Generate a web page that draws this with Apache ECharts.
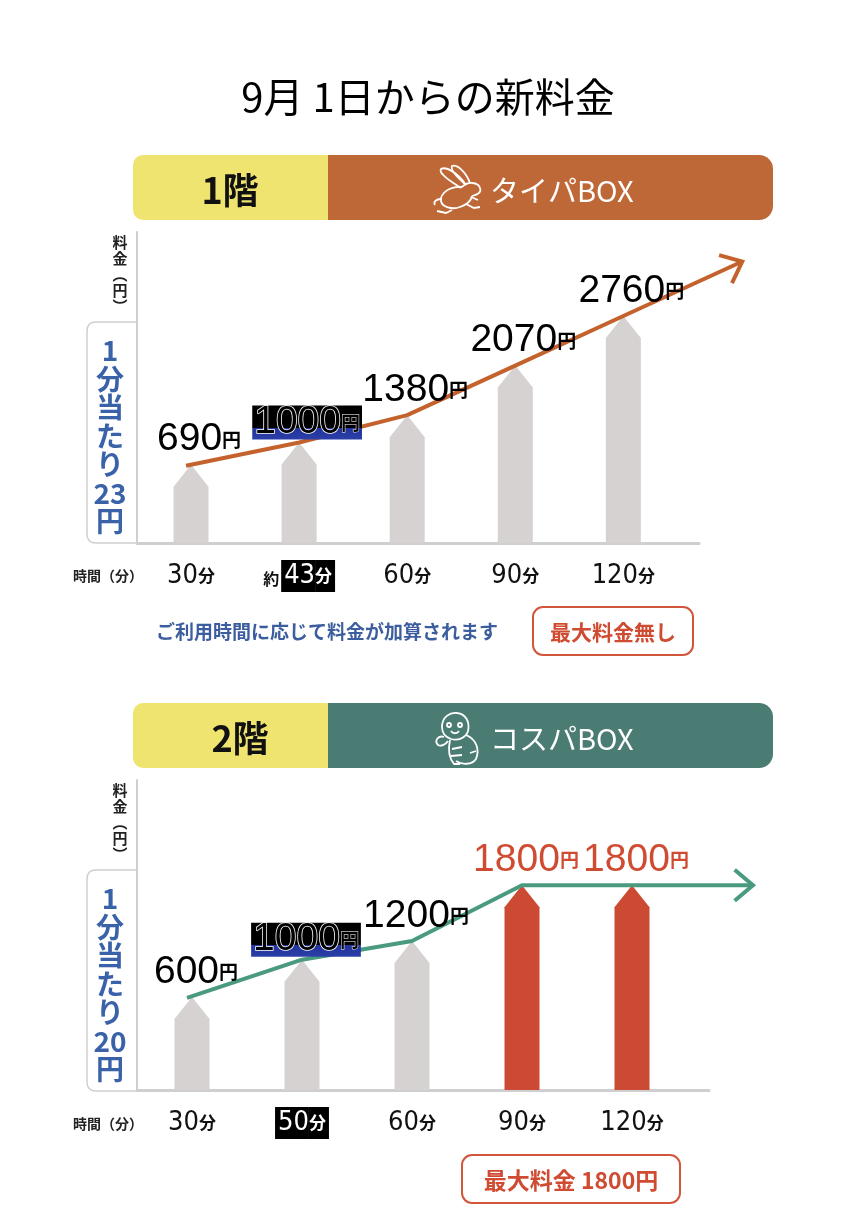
<!DOCTYPE html>
<html><head><meta charset="utf-8">
<script src="https://cdn.jsdelivr.net/npm/echarts@6/dist/echarts.min.js"></script>
<style>html,body{margin:0;padding:0;background:#fff}#c{width:856px;height:1212px}</style>
</head><body><div id="c"></div>
<script>
const JP = '"Noto Sans CJK JP", sans-serif';
const NUM = '"Liberation Sans", Arial, sans-serif';
const NARROW = '"Liberation Sans Narrow", "DejaVu Sans Condensed", "Liberation Sans", sans-serif';

// ---- data ----
const minutes1 = ['30', '43', '60', '90', '120'];
const prefix1 = ['', '約', '', '', ''];
const prices1 = [690, 1000, 1380, 2070, 2760];
const minutes2 = ['30', '50', '60', '90', '120'];
const prefix2 = ['', '', '', '', ''];
const prices2 = [600, 1000, 1200, 1800, 1800];
const highlightIndex = 1;       // highlighted time / price
const cappedFrom2 = 3;          // 2F: from 90分 the price is capped
const perMinute1 = 23;
const perMinute2 = 20;
const maxPrice2 = 1800;

// ---- styles ----
const GREY_BAR = '#D6D2D2';
const RED_BAR = '#CC4A33';
const ORANGE = '#C4622D';
const TEAL = '#4A9A80';
const AXIS = '#CFCFCF';
const BLUE = '#3A62A8';
const RED_TXT = '#CF4B31';
const Y_MIN = -400;

function xAxisFor(gi, mins, pre) {
  return {
    type: 'value', gridIndex: gi, min: -0.5, max: 4.7,
    axisLine: { show: true, onZero: false, lineStyle: { color: AXIS, width: 3 } },
    axisTick: { show: false }, splitLine: { show: false },
    axisLabel: {
      show: true, customValues: [0, 1, 2, 3, 4], margin: 17,
      formatter: function (v) {
        const i = Math.round(v);
        if (i === highlightIndex) {
          return (pre[i] ? '{pre|' + pre[i] + '}' : '') + '{hn|' + mins[i] + '}{hu|分}';
        }
        return '{n|' + mins[i] + '}{u|分}';
      },
      rich: {
        n: { fontFamily: NARROW, fontSize: 27, color: '#111', height: 32, lineHeight: 32, verticalAlign: 'bottom' },
        u: { fontFamily: JP, fontSize: 17, fontWeight: 'bold', color: '#111', height: 32, lineHeight: 32, verticalAlign: 'bottom' },
        pre: { fontFamily: JP, fontSize: 16, fontWeight: 'bold', color: '#111', height: 26, lineHeight: 26, verticalAlign: 'bottom', padding: [0, 2, 0, 0] },
        hn: { fontFamily: NARROW, fontSize: 27, color: '#fff', backgroundColor: '#000', height: 32, lineHeight: 32, padding: [0, 0, 0, 3], verticalAlign: 'bottom' },
        hu: { fontFamily: JP, fontSize: 17, fontWeight: 'bold', color: '#fff', backgroundColor: '#000', height: 32, lineHeight: 32, padding: [0, 3, 0, 0], verticalAlign: 'bottom' }
      }
    }
  };
}
function yAxisFor(gi, max) {
  return {
    type: 'value', gridIndex: gi, min: Y_MIN, max: max,
    axisLine: { show: true, onZero: false, lineStyle: { color: AXIS, width: 2 } },
    axisTick: { show: false }, axisLabel: { show: false }, splitLine: { show: false }
  };
}

function barRender(redFrom) {
  return function (params, api) {
    const i = api.value(0), v = api.value(1);
    const top = api.coord([i, v]);
    const base = api.coord([i, Y_MIN]);
    const w = 35, tip = 22, hw = w / 2;
    const color = (redFrom != null && i >= redFrom) ? RED_BAR : GREY_BAR;
    return {
      type: 'polygon',
      shape: { points: [[top[0] - hw, base[1]], [top[0] - hw, top[1] + tip], [top[0], top[1]], [top[0] + hw, top[1] + tip], [top[0] + hw, base[1]]] },
      style: { fill: color }
    };
  };
}

function trendRender(prices, color) {
  return function (params, api) {
    const n = prices.length;
    if (params.dataIndex !== n - 1) return null;
    const pts = prices.map((v, i) => api.coord([i, v]));
    pts[0] = [pts[0][0] - 5, pts[0][1] + 1];
    const slope = prices[n - 1] - prices[n - 2];
    const endPt = api.coord([n - 1 + 1.1, prices[n - 1] + 1.1 * slope]);
    pts.push(endPt);
    const prev = pts[n - 1];
    const ang = Math.atan2(endPt[1] - prev[1], endPt[0] - prev[0]);
    const L = 24, spread = Math.PI - 0.7;
    const a1 = [endPt[0] + L * Math.cos(ang + spread), endPt[1] + L * Math.sin(ang + spread)];
    const a2 = [endPt[0] + L * Math.cos(ang - spread), endPt[1] + L * Math.sin(ang - spread)];
    return {
      type: 'group',
      children: [
        { type: 'polyline', shape: { points: pts }, style: { stroke: color, lineWidth: 4, fill: null, lineJoin: 'round' } },
        { type: 'polyline', shape: { points: [a1, endPt, a2] }, style: { stroke: color, lineWidth: 4, fill: null, lineJoin: 'miter', lineCap: 'butt' } }
      ]
    };
  };
}

const hlBg = new echarts.graphic.LinearGradient(0, 0, 0, 1, [
  { offset: 0, color: '#000' }, { offset: 0.66, color: '#000' },
  { offset: 0.66, color: '#23349A' }, { offset: 1, color: '#2B3FA8' }
]);

function labelRender(redFrom, dx) {
  return function (params, api) {
    const i = api.value(0), v = api.value(1);
    const p = api.coord([i, v]);
    const hl = i === highlightIndex;
    const red = redFrom != null && i >= redFrom;
    const col = red ? RED_TXT : '#000';
    const style = {
      text: '{n|' + v + '}{u|円}',
      align: 'center', verticalAlign: 'bottom', textAlign: 'center', textVerticalAlign: 'bottom',
      rich: {
        n: { fontFamily: NUM, fontSize: 39, fill: col, lineHeight: 34, stroke: hl ? '#fff' : null, lineWidth: hl ? 1.5 : 0 },
        u: { fontFamily: JP, fontSize: 19, fontWeight: 'bold', fill: col, lineHeight: 34, stroke: hl ? '#fff' : null, lineWidth: hl ? 1 : 0 }
      }
    };
    if (hl) { style.backgroundColor = hlBg; style.padding = [0, 2, 0, 2]; }
    return { type: 'text', x: p[0] + dx, y: p[1] - (hl ? 3 : 8), style: style };
  };
}

function T(x, y, text, s) {
  return { type: 'text', x: x, y: y, style: Object.assign({ text: text, fontFamily: JP, align: 'center', verticalAlign: 'middle', textAlign: 'center', textVerticalAlign: 'middle' }, s) };
}

function panelGraphics(oy, floorText, floorX, boxColor, boxText, perMinute) {
  const g = [];
  g.push({ type: 'rect', shape: { x: 133, y: oy, width: 196, height: 65, r: [10, 0, 0, 10] }, style: { fill: '#EFE46F' } });
  g.push({ type: 'rect', shape: { x: 328, y: oy, width: 445, height: 65, r: [0, 14, 14, 0] }, style: { fill: boxColor } });
  g.push(T(floorX, oy + 35, floorText, { fill: '#111', fontSize: 36, fontWeight: 'bold' }));
  g.push(T(490, oy + 36, boxText, { fill: '#fff', fontSize: 29, align: 'left', textAlign: 'left' }));
  const ay = oy + 77;
  g.push(T(120, ay + 42, '料\n金\n︵\n円\n︶', { fill: '#222', fontSize: 15, fontWeight: 'bold', lineHeight: 16 }));
  g.push(T(110, oy + 281, '1\n分\n当\nた\nり\n' + perMinute + '\n円', { fill: BLUE, fontSize: 28, fontWeight: 'bold', lineHeight: 28.5 }));
  g.push(T(108, oy + 421, '時間（分）', { fill: '#222', fontSize: 14, fontWeight: 'bold' }));
  return g;
}

// decorative outlines (icons, label frame) drawn with svg path data, offset per panel
const rabbitIcon = [
  'M466,30 C458,18 446,11 441,14 C438,18 450,26 461,33',
  'M470,28 C466,17 457,9 452,11 C450,15 459,24 466,30',
  'M462,32 C468,26 478,27 480,33 C482,38 476,40 472,41',
  'M462,32 C450,31 440,38 441,46 C442,52 452,55 460,52 C466,50 471,46 472,41',
  'M441,44 C436,44 433,47 435,50',
  'M452,55 L446,58 L437,56',
  'M466,49 L474,53 L480,52',
  'M471,42 L478,45'
];
const turtleIcon = [
  'M442,24 C442,14 450,9 457,10 C466,11 470,19 468,28 C466,35 458,38 451,36 C445,34 442,30 442,24 Z',
  'M447,22 a2,2 0 1,0 4,0 a2,2 0 1,0 -4,0',
  'M458,22 a2,2 0 1,0 4,0 a2,2 0 1,0 -4,0',
  'M451,28 C453,31 457,31 459,28',
  'M444,34 C438,32 434,38 438,42 C441,44 446,41 448,38',
  'M466,32 C476,36 480,46 476,56 C472,62 462,62 456,58',
  'M450,37 C448,46 449,55 454,61 L460,61',
  'M452,46 L462,44 M451,53 L462,52',
  'M470,50 L476,48'
];
const frame = 'M137,167 L96,167 Q87,167 87,176 L87,379 Q87,388 96,388 L137,388';

function decorRender(params, api) {
  const kids = [];
  [[155, rabbitIcon], [703, turtleIcon]].forEach(function (pi) {
    pi[1].forEach(function (d) {
      kids.push({ type: 'path', x: 0, y: pi[0], shape: { pathData: d }, style: { stroke: '#fff', lineWidth: 1.8, fill: null } });
    });
    kids.push({ type: 'path', x: 0, y: pi[0], shape: { pathData: frame }, style: { stroke: AXIS, lineWidth: 1.5, fill: null } });
  });
  return { type: 'group', children: kids };
}

const graphics = []
  .concat(panelGraphics(155, '1階', 230, '#BE6838', 'タイパBOX', perMinute1))
  .concat(panelGraphics(703, '2階', 240, '#4A7C73', 'コスパBOX', perMinute2));

graphics.push(T(327, 632, 'ご利用時間に応じて料金が加算されます', { fill: '#3D5E9E', fontSize: 19, fontWeight: 'bold' }));
graphics.push({ type: 'rect', shape: { x: 533, y: 607, width: 160, height: 48, r: 10 }, style: { stroke: '#D2563C', lineWidth: 2, fill: '#fff' } });
graphics.push(T(613, 632, '最大料金無し', { fill: RED_TXT, fontSize: 21, fontWeight: 'bold' }));
graphics.push({ type: 'rect', shape: { x: 462, y: 1155, width: 218, height: 48, r: 10 }, style: { stroke: '#D2563C', lineWidth: 2, fill: '#fff' } });
graphics.push(T(571, 1180, '最大料金 ' + maxPrice2 + '円', { fill: RED_TXT, fontSize: 23, fontWeight: 'bold' }));

const chart = echarts.init(document.getElementById('c'), null, { renderer: 'canvas' });
const d1 = prices1.map((v, i) => [i, v]);
const d2 = prices2.map((v, i) => [i, v]);
chart.setOption({
  backgroundColor: '#fff',
  animation: false,
  title: { text: '9月 1日からの新料金', left: 'center', top: 72, textStyle: { fontSize: 40, fontWeight: 'normal', fontFamily: JP, color: '#000' } },
  grid: [
    { left: 137, top: 232, width: 562, height: 311 },
    { left: 137, top: 780, width: 572, height: 310 }
  ],
  xAxis: [xAxisFor(0, minutes1, prefix1), xAxisFor(1, minutes2, prefix2)],
  yAxis: [yAxisFor(0, 3930), yAxisFor(1, 2930)],
  graphic: { elements: graphics },
  series: [
    { type: 'custom', xAxisIndex: 0, yAxisIndex: 0, data: d1, renderItem: barRender(null), z: 2 },
    { type: 'custom', xAxisIndex: 0, yAxisIndex: 0, data: d1, renderItem: trendRender(prices1, ORANGE), z: 3 },
    { type: 'custom', xAxisIndex: 0, yAxisIndex: 0, data: d1, renderItem: labelRender(null, 8), z: 4 },
    { type: 'custom', xAxisIndex: 1, yAxisIndex: 1, data: d2, renderItem: barRender(cappedFrom2), z: 2 },
    { type: 'custom', xAxisIndex: 1, yAxisIndex: 1, data: d2, renderItem: trendRender(prices2, TEAL), z: 3 },
    { type: 'custom', xAxisIndex: 1, yAxisIndex: 1, data: d2, renderItem: labelRender(cappedFrom2, 4), z: 4 },
    { type: 'custom', xAxisIndex: 0, yAxisIndex: 0, data: [[0, 0]], renderItem: decorRender, z: 10, silent: true }
  ]
});
</script></body></html>
